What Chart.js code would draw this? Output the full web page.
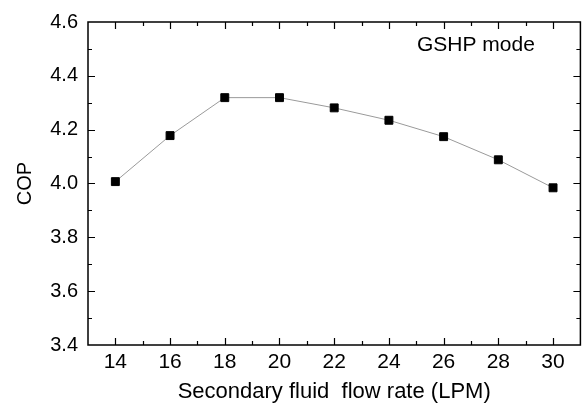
<!DOCTYPE html>
<html>
<head>
<meta charset="utf-8">
<script src="https://cdn.jsdelivr.net/npm/chart.js@4/dist/chart.umd.min.js"></script>
<style>
  html, body { margin: 0; padding: 0; background: #fff; }
  #wrap { width: 587px; height: 409px; }
</style>
</head>
<body>
<div id="wrap"><canvas id="copChart" width="587" height="409"></canvas></div>
<script>
// data
const flowRates = [14, 16, 18, 20, 22, 24, 26, 28, 30];
const copValues = [4.007, 4.178, 4.319, 4.319, 4.281, 4.235, 4.174, 4.088, 3.984];
const xTicks = [14, 16, 18, 20, 22, 24, 26, 28, 30];
const yTicks = [3.4, 3.6, 3.8, 4.0, 4.2, 4.4, 4.6];
const modeLabel = 'GSHP mode';

const fontFamily = '"Liberation Sans", Arial, sans-serif';

// frame + inward ticks on all four sides
const frameTicks = {
    id: 'frameTicks',
    afterDraw(chart) {
        const ctx = chart.ctx;
        const a = chart.chartArea;
        const xs = chart.scales.x, ys = chart.scales.y;
        ctx.save();
        ctx.strokeStyle = '#000';
        ctx.lineWidth = 1.5;
        ctx.strokeRect(a.left, a.top, a.right - a.left, a.bottom - a.top);
        ctx.lineWidth = 1.2;
        ctx.beginPath();
        for (let v = 14; v <= 30; v++) {
            const len = v % 2 === 0 ? 7 : 4;
            const px = Math.round(xs.getPixelForValue(v)) + 0.5;
            ctx.moveTo(px, a.bottom); ctx.lineTo(px, a.bottom - len);
            ctx.moveTo(px, a.top); ctx.lineTo(px, a.top + len);
        }
        for (let i = 35; i <= 45; i++) {
            const len = i % 2 === 0 ? 7 : 4;
            const py = Math.round(ys.getPixelForValue(i / 10)) + 0.5;
            ctx.moveTo(a.left, py); ctx.lineTo(a.left + len, py);
            ctx.moveTo(a.right, py); ctx.lineTo(a.right - len, py);
        }
        ctx.stroke();
        ctx.fillStyle = '#000';
        ctx.font = '21px ' + fontFamily;
        ctx.textAlign = 'left';
        ctx.textBaseline = 'middle';
        ctx.fillText(modeLabel, 417, 45);
        ctx.restore();
    }
};

const ctx = document.getElementById('copChart').getContext('2d');
new Chart(ctx, {
    type: 'line',
    data: {
        datasets: [{
            data: flowRates.map((x, i) => ({ x: x, y: copValues[i] })),
            borderColor: '#9a9a9a',
            borderWidth: 1,
            pointStyle: 'rect',
            pointRadius: 5.6,
            pointBackgroundColor: '#000',
            pointBorderColor: '#000',
            pointBorderWidth: 1,
            tension: 0,
            fill: false
        }]
    },
    options: {
        responsive: false,
        animation: false,
        layout: { padding: { top: 15, right: 4, left: 0, bottom: 0 } },
        plugins: { legend: { display: false }, tooltip: { enabled: false } },
        scales: {
            x: {
                type: 'linear',
                min: 13, max: 31,
                afterBuildTicks: s => { s.ticks = xTicks.map(v => ({ value: v })); },
                afterFit: s => { s.height = 64; },
                grid: { display: false, drawTicks: false },
                border: { display: false },
                ticks: { color: '#000', padding: 5, font: { size: 21, family: fontFamily } },
                title: { display: true, text: 'Secondary fluid  flow rate (LPM)', color: '#000',
                         padding: { top: 0, bottom: 4 }, font: { size: 22, family: fontFamily } }
            },
            y: {
                min: 3.4, max: 4.6,
                afterBuildTicks: s => { s.ticks = yTicks.map(v => ({ value: v })); },
                afterFit: s => { s.width = 88; },
                grid: { display: false, drawTicks: false },
                border: { display: false },
                ticks: { color: '#000', padding: 10, font: { size: 20, family: fontFamily },
                         callback: v => v.toFixed(1) },
                title: { display: true, text: 'COP', color: '#000',
                         padding: { top: 13, bottom: 0 }, font: { size: 20, family: fontFamily } }
            }
        }
    },
    plugins: [frameTicks]
});
</script>
</body>
</html>
